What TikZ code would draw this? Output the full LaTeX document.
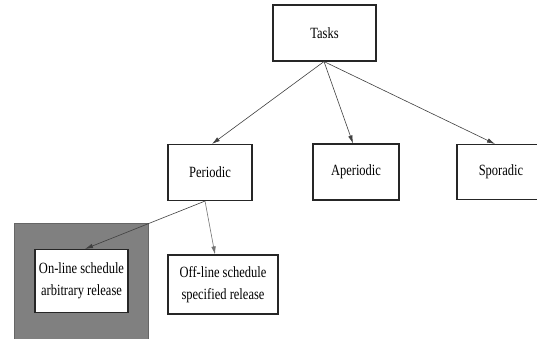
\documentclass[tikz,border=0pt]{standalone}
\usepackage{fontspec}
\setmainfont{Liberation Serif}
\newfontfamily\timesfont{Liberation Serif}
\usetikzlibrary{arrows.meta}
\newcommand{\vs}[1]{\scalebox{1}[1.25]{#1}}
\begin{document}
\begin{tikzpicture}[x=1pt,y=-1pt,
  box/.style={draw=black!85, line width=1.1pt, fill=white, inner sep=0pt,
    font=\timesfont\fontsize{12.5}{22}\selectfont, align=center},
  shadebox/.style={draw=black!60, line width=0.6pt, fill=black!50, inner sep=0pt},
  link/.style={-{Latex[length=8pt,width=4.5pt]}, draw=black!75, line width=0.6pt}]
\clip (0,0) rectangle (537,339);
\fill[white] (0,0) rectangle (537,339);
\node[box, minimum width=103pt, minimum height=56pt] (tasks) at (324.5,33) {\vs{Tasks}};
\node[box, minimum width=84pt, minimum height=56pt] (per) at (210,172.5) {\vs{Periodic}};
\node[box, minimum width=86pt, minimum height=56pt] (aper) at (356,172) {\raisebox{-3pt}{\vs{Aperiodic}}};
\node[box, minimum width=88pt, minimum height=55pt] (spor) at (501,172) {\raisebox{4pt}{\vs{Sporadic}}};
\node[shadebox, minimum width=134pt, minimum height=122pt] (shade) at (81,284) {};
\node[box, minimum width=93pt, minimum height=63pt] (on) at (81.5,281) {\vs{On-line schedule}\\\vs{arbitrary release}};
\node[box, minimum width=110pt, minimum height=59pt] (off) at (223,284.5) {\vs{Off-line schedule}\\\vs{specified release}};
\draw[link] ([xshift=-0.5pt]tasks.south) -- ([xshift=2pt]per.north);
\draw[link] ([xshift=-0.5pt]tasks.south) -- ([xshift=-3pt]aper.north);
\draw[link] ([xshift=-0.5pt]tasks.south) -- ([xshift=-6pt]spor.north);
\draw[link] ([xshift=-5pt]per.south) -- ([xshift=3.5pt]on.north);
\draw[link, draw=black!55] ([xshift=-5pt]per.south) -- ([xshift=-8pt]off.north);
\end{tikzpicture}
\end{document}
